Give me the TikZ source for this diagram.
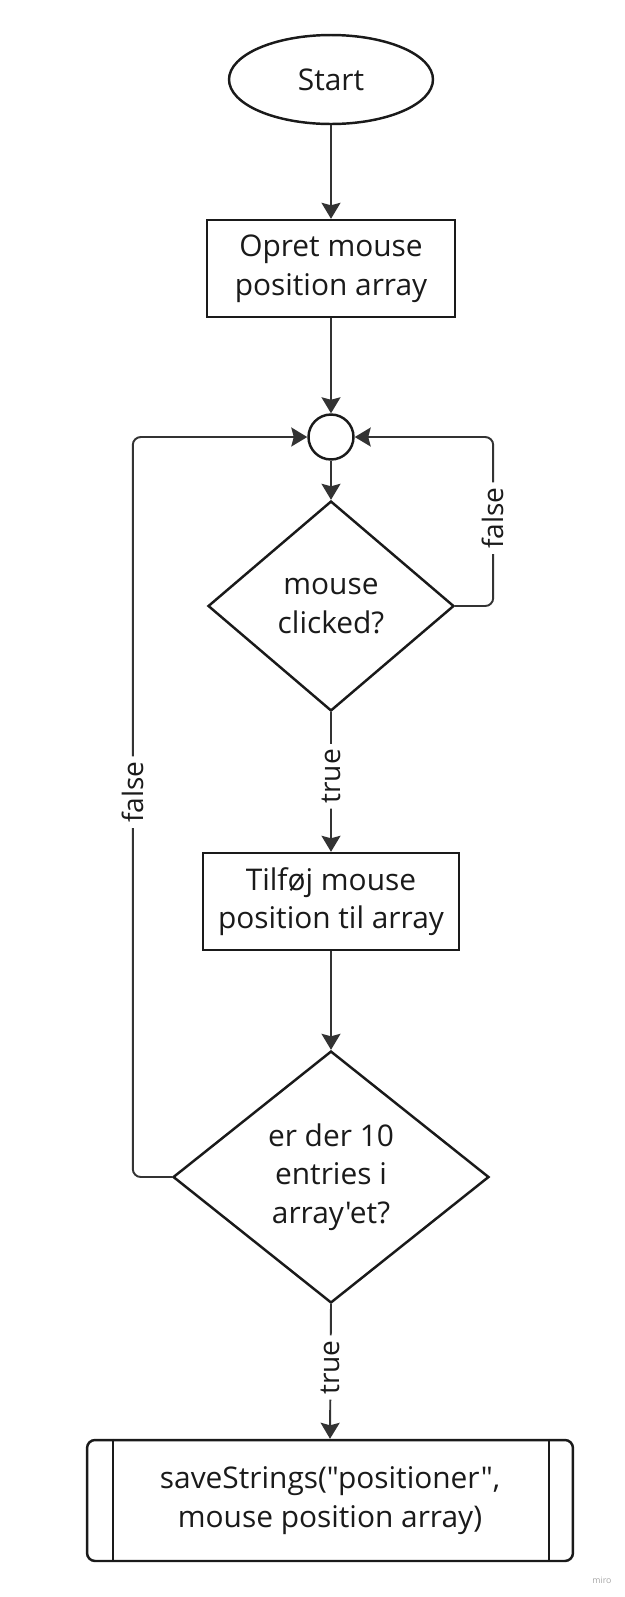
\documentclass[tikz,border=0pt]{standalone}
\usepackage{fontspec}
\setmainfont{Open Sans}[Ligatures=TeXOff]
\usetikzlibrary{arrows.meta,shapes.geometric}
\definecolor{MiroInk}{HTML}{1A1A1A}
\definecolor{MiroLine}{HTML}{333333}

\begin{document}
\begin{tikzpicture}[x=.02cm,y=-.02cm,
  every node/.style={text=MiroInk,font=\fontsize{17pt}{22pt}\selectfont,align=center,inner sep=0pt},
  shapebox/.style={draw=MiroInk,line width=1.4pt,fill=white},
  conn/.style={draw=MiroLine,line width=1.1pt,rounded corners=.16cm,
    -{Stealth[length=.32cm,width=.38cm,inset=.05cm]}},
  lbl/.style={rotate=90,fill=white,inner sep=.1cm,font=\fontsize{16pt}{20pt}\selectfont}]
  \useasboundingbox (0,0) rectangle (625,1597);
  % shapes
  \node[shapebox,ellipse,minimum width=4.08cm,minimum height=1.78cm] (start) at (331,79.5) {Start};
  \node[shapebox,minimum width=4.96cm,minimum height=1.94cm] (opret) at (331,268.5) {Opret mouse\\position array};
  \node[shapebox,circle,minimum size=.9cm] (join) at (331,437) {};
  \node[shapebox,diamond,minimum width=4.92cm,minimum height=4.2cm] (clicked) at (331,606) {mouse\\clicked?};
  \node[shapebox,minimum width=5.12cm,minimum height=1.94cm] (tilfoej) at (331,901.5) {Tilføj mouse\\position til array};
  \node[shapebox,diamond,minimum width=6.32cm,minimum height=5.04cm] (ten) at (331,1177) {er der 10\\entries i\\array'et?};
  \node[shapebox,rounded corners=.16cm,minimum width=9.72cm,minimum height=2.42cm] (save) at (330,1500.5)
    {saveStrings("positioner",\\mouse position array)};
  \draw[MiroInk,line width=1.4pt] ([xshift=.54cm]save.north west) -- ([xshift=.54cm]save.south west);
  \draw[MiroInk,line width=1.4pt] ([xshift=-.5cm]save.north east) -- ([xshift=-.5cm]save.south east);
  % connectors
  \draw[conn] (start) -- (opret);
  \draw[conn] (opret) -- (join);
  \draw[conn] (join) -- (clicked);
  \draw[conn] (clicked.east) -- ++(38,0) |- node[lbl,pos=.26] {false} (join.east);
  \draw[conn] (clicked.south) -- node[lbl,pos=.46] {true} (tilfoej.north);
  \draw[conn] (tilfoej) -- (ten);
  \draw[conn] (ten.west) -- ++(-39,0) |- node[lbl,pos=.26] {false} (join.west);
  \draw[conn] (ten.south) -- node[lbl,pos=.47] {true} (save.north);
  \node[text=black!35,font=\fontsize{5pt}{6pt}\selectfont] (miro) at (602,1580) {miro};
\end{tikzpicture}
\end{document}
